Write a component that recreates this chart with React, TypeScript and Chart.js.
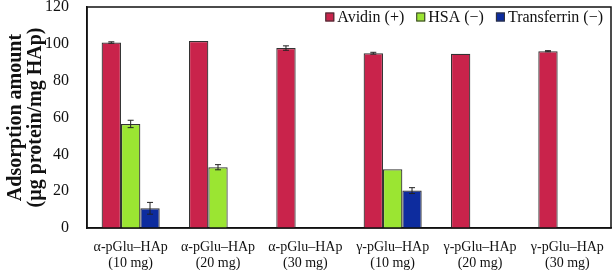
import React, { useEffect, useRef } from "react";
import { Chart, registerables } from "chart.js";

Chart.register(...registerables);

const categories = [
  ["α-pGlu–HAp", "(10 mg)"],
  ["α-pGlu–HAp", "(20 mg)"],
  ["α-pGlu–HAp", "(30 mg)"],
  ["γ-pGlu–HAp", "(10 mg)"],
  ["γ-pGlu–HAp", "(20 mg)"],
  ["γ-pGlu–HAp", "(30 mg)"],
];
const seriesNames = ["Avidin (+)", "HSA (−)", "Transferrin (−)"];
const avidin = [100.7, 101.5, 97.7, 94.9, 94.6, 96.0];
const hsa = [56.5, 33.0, null, 31.9, null, null];
const transferrin = [10.7, null, null, 20.3, null, null];
const avidinErr = [0.4, 0, 1.2, 0.5, 0, 0.3];
const hsaErr = [2.0, 1.4, 0, 0, 0, 0];
const transferrinErr = [3.2, 0, 0, 1.6, 0, 0];
const yTicks = [0, 20, 40, 60, 80, 100, 120];

const FONT = "'Liberation Serif', 'Times New Roman', serif";

const errorBarPlugin = {
  id: "errorBars",
  afterDatasetsDraw(chart: any) {
    const ctx = chart.ctx;
    const y = chart.scales.y;
    chart.data.datasets.forEach((ds: any, i: number) => {
      const meta = chart.getDatasetMeta(i);
      const errs = ds.errors || [];
      meta.data.forEach((el: any, j: number) => {
        const v = ds.data[j];
        const e = errs[j];
        if (v == null || !e) return;
        const x = el.x;
        const yt = y.getPixelForValue(v + e);
        const yb = y.getPixelForValue(v - e);
        ctx.save();
        ctx.strokeStyle = "#222";
        ctx.lineWidth = 1;
        ctx.beginPath();
        ctx.moveTo(x, yt);
        ctx.lineTo(x, yb);
        ctx.moveTo(x - 3, yt);
        ctx.lineTo(x + 3, yt);
        ctx.moveTo(x - 3, yb);
        ctx.lineTo(x + 3, yb);
        ctx.stroke();
        ctx.restore();
      });
    });
  },
};

const framePlugin = {
  id: "frame",
  afterDraw(chart: any) {
    const { ctx, chartArea } = chart;
    ctx.save();
    ctx.strokeStyle = "#111";
    ctx.lineWidth = 1.5;
    ctx.strokeRect(chartArea.left, chartArea.top, chartArea.right - chartArea.left, chartArea.bottom - chartArea.top);
    ctx.restore();
  },
};

const legendPlugin = {
  id: "insideLegend",
  afterDraw(chart: any) {
    const { ctx, chartArea } = chart;
    ctx.save();
    ctx.font = `16px ${FONT}`;
    ctx.textBaseline = "middle";
    const box = 9;
    const gapBox = 3;
    const gapItem = 12;
    const yc = chartArea.top + 10;
    let x = chartArea.right - 8;
    const items = chart.data.datasets.map((ds: any) => ({ label: ds.label, color: ds.backgroundColor }));
    for (let i = items.length - 1; i >= 0; i--) {
      const it = items[i];
      const w = ctx.measureText(it.label).width;
      const tx = x - w;
      ctx.fillStyle = "#111";
      ctx.textAlign = "left";
      ctx.fillText(it.label, tx, yc + 1);
      const bx = tx - gapBox - box;
      ctx.fillStyle = it.color;
      ctx.fillRect(bx, yc - box / 2, box, box);
      ctx.strokeStyle = "#333";
      ctx.lineWidth = 1;
      ctx.strokeRect(bx + 0.5, yc - box / 2 + 0.5, box - 1, box - 1);
      x = bx - gapItem;
    }
    ctx.restore();
  },
};

export default function App() {
  const ref = useRef<HTMLCanvasElement | null>(null);
  useEffect(() => {
    document.body.style.margin = "0";
    const canvas = ref.current!;
    const chart = new Chart(canvas, {
      type: "bar",
      data: {
        labels: categories as any,
        datasets: [
          { label: seriesNames[0], data: avidin, errors: avidinErr, backgroundColor: "#C9234B", borderColor: "#333", borderWidth: 1.2 } as any,
          { label: seriesNames[1], data: hsa, errors: hsaErr, backgroundColor: "#9BE532", borderColor: "#333", borderWidth: 1.2 } as any,
          { label: seriesNames[2], data: transferrin, errors: transferrinErr, backgroundColor: "#0D2C9E", borderColor: "#333", borderWidth: 1.2 } as any,
        ],
      },
      options: {
        animation: false,
        responsive: false,
        maintainAspectRatio: false,
        layout: { padding: { top: 7, right: 3, left: 0, bottom: 0 } },
        datasets: { bar: { categoryPercentage: 0.665, barPercentage: 1 } },
        plugins: {
          legend: { display: false },
          tooltip: { enabled: false },
        },
        scales: {
          x: {
            afterFit: (s: any) => { s.height = 42; s.paddingLeft = 0; s.paddingRight = 0; },
            grid: { display: false, drawTicks: false },
            border: { display: true, color: "#111", width: 1.5 },
            ticks: { color: "#111", font: { family: FONT, size: 14, lineHeight: 1.1 }, padding: 12, maxRotation: 0, autoSkip: false },
          },
          y: {
            min: 0,
            max: 120,
            afterBuildTicks: (s: any) => { s.ticks = yTicks.map((v) => ({ value: v })); },
            afterFit: (s: any) => { s.width = 87; s.paddingTop = 0; s.paddingBottom = 0; },
            grid: { display: false, drawOnChartArea: false, drawTicks: true, tickLength: 4, color: "#111" },
            border: { display: true, color: "#111", width: 1.5 },
            ticks: { color: "#111", font: { family: FONT, size: 16 }, padding: 14 },
            title: {
              display: true,
              text: ["Adsorption amount", "(µg protein/mg HAp)"],
              color: "#111",
              font: { family: FONT, size: 20, weight: "bold", lineHeight: 1.0 },
              padding: { top: 6, bottom: 0 },
            },
          },
        },
      },
      plugins: [errorBarPlugin, framePlugin, legendPlugin],
    });
    return () => chart.destroy();
  }, []);
  return <canvas ref={ref} width={614} height={270} style={{ display: "block", width: 614, height: 270 }} />;
}
